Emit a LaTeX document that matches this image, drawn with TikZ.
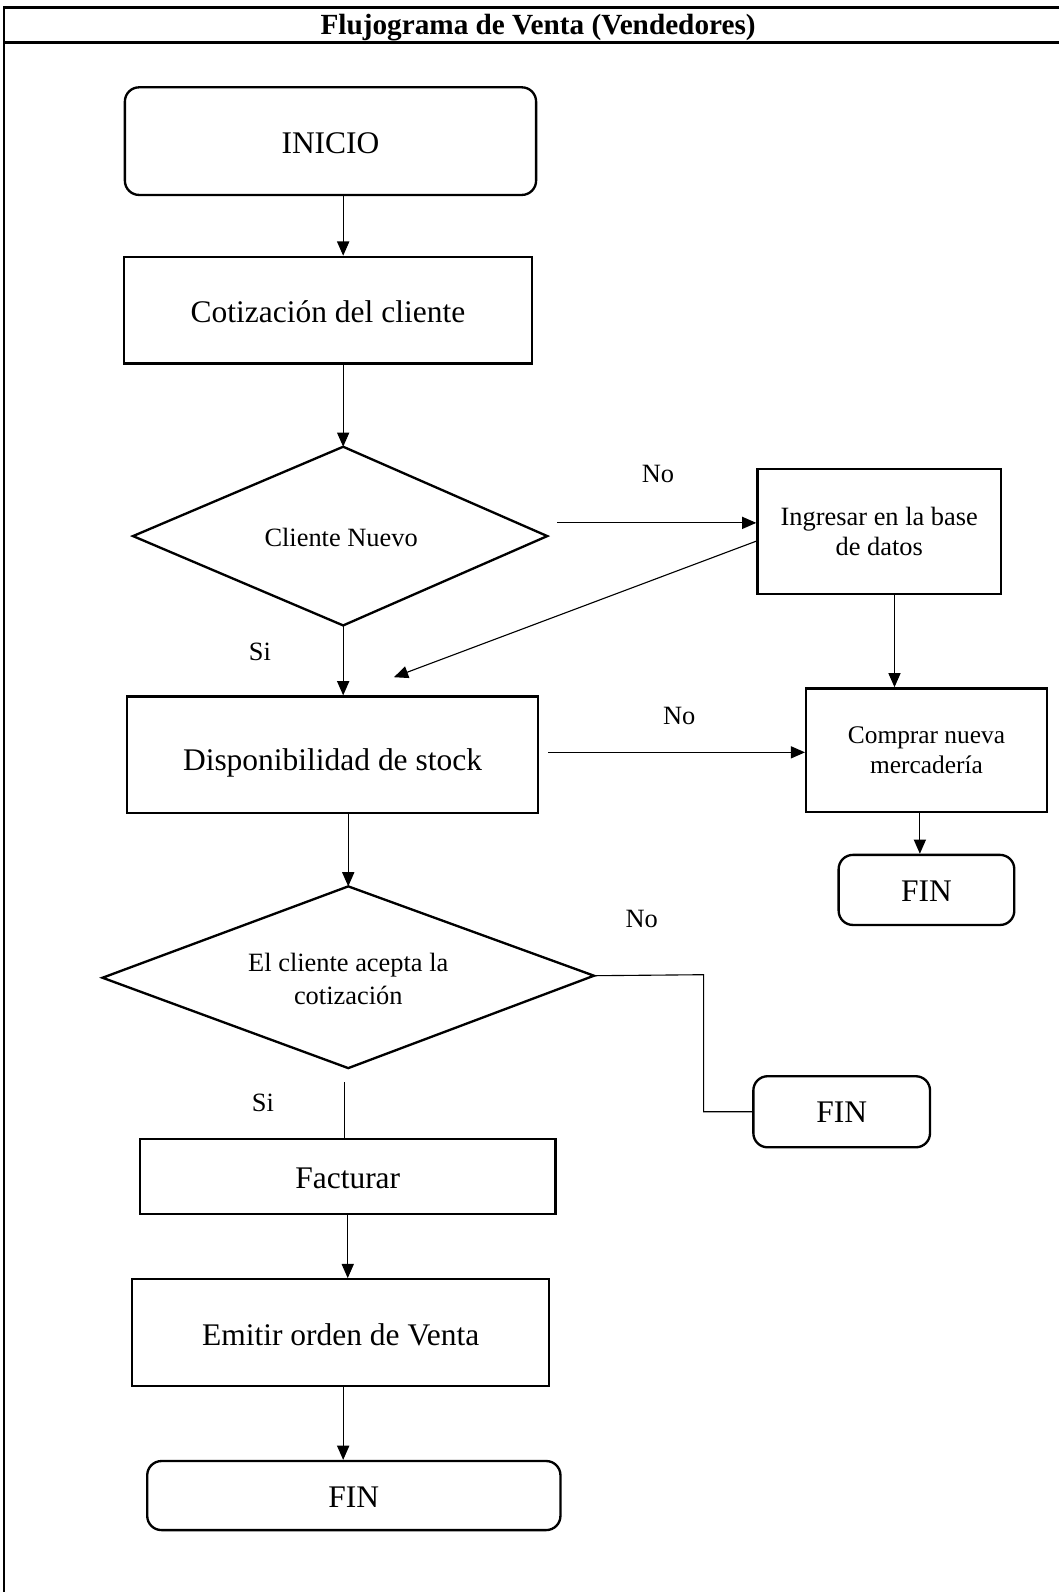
\documentclass[tikz,border=0pt]{standalone}
\usepackage{fontspec}
\setmainfont{Liberation Serif}
\usetikzlibrary{shapes.geometric,arrows.meta}

\tikzset{
  big/.style={font=\fontsize{31}{36}\selectfont},
  small/.style={font=\fontsize{26}{30}\selectfont},
  procbox/.style={draw, line width=2.3pt, rectangle, inner sep=0pt, align=center},
  termbox/.style={procbox, rounded corners=14pt},
  decline/.style={line width=2.3pt, line join=miter},
  conn/.style={line width=1.1pt},
  arr/.style={conn, -{Triangle[length=14pt,width=12pt]}},
  lbl/.style={small, inner sep=0pt},
  frameline/.style={line width=2.8pt},
  % baseline placed #1/2 pt below the box centre
  basedrop/.style={text height=#1pt, text depth=0pt}
}

\begin{document}
\begin{tikzpicture}[x=1pt,y=-1pt]
\useasboundingbox (0,0) rectangle (1043,1568);

% outer frame and title bar
\draw[frameline] (1043,7) -- (4,7) -- (4,1568);
\draw[frameline] (4,42) -- (1043,42);
\node[font=\fontsize{28.8}{32}\selectfont\bfseries] (title) at (530,27) {Flujograma de Venta (Vendedores)};

% main column
\node[termbox, big, basedrop=24, minimum width=405pt, minimum height=106pt] (ini) at (325.5,139) {INICIO};
\node[procbox, big, basedrop=25, minimum width=402pt, minimum height=105pt] (cot) at (323,305.5) {Cotización del cliente};

% decision: new customer
\coordinate (d1n) at (338,440);
\coordinate (d1e) at (539,528);
\coordinate (d1s) at (338,616);
\coordinate (d1w) at (131,528);
\draw[decline] (d1n) -- (d1e) -- (d1s) -- (d1w) -- cycle;
\node[small, align=center] (d1) at (336,529) {Cliente Nuevo};

\node[procbox, big, basedrop=30, minimum width=405pt, minimum height=115pt] (disp) at (327.5,743.5) {Disponibilidad de stock};

% decision: quotation accepted
\coordinate (d2n) at (343,873);
\coordinate (d2e) at (585,961);
\coordinate (d2s) at (343,1052);
\coordinate (d2w) at (101,963);
\draw[decline] (d2n) -- (d2e) -- (d2s) -- (d2w) -- cycle;
\node[font=\fontsize{26}{32}\selectfont, align=center] (d2) at (343,964) {El cliente acepta la\\cotización};

\node[procbox, big, basedrop=24, minimum width=409pt, minimum height=74pt] (fac) at (342.5,1159) {Facturar};
\node[procbox, big, basedrop=25, minimum width=411pt, minimum height=105pt] (emi) at (335.5,1312.5) {Emitir orden de Venta};
\node[termbox, big, basedrop=24, minimum width=407pt, minimum height=68pt] (fin3) at (348.5,1473) {FIN};

% right column
\node[procbox, small, minimum width=240pt, minimum height=123pt] (ing) at (866,523.5) {Ingresar en la base\\de datos};
\node[procbox, small, minimum width=237pt, minimum height=122pt, font=\fontsize{25}{29}\selectfont] (comp) at (912.5,739) {Comprar nueva\\mercadería};
\node[termbox, big, basedrop=23, minimum width=173pt, minimum height=69pt] (fin1) at (912.5,876.5) {FIN};
\node[termbox, big, basedrop=22, minimum width=174pt, minimum height=70pt] (fin2) at (829,1095) {FIN};

% branch labels
\node[lbl] (no1) at (648,467) {No};
\node[lbl] (si1) at (256,642) {Si};
\node[lbl] (no2) at (669,705) {No};
\node[lbl] (no3) at (632,905) {No};
\node[lbl] (si2) at (259,1086) {Si};

% free ends of connectors
\coordinate (n1) at (549,515);
\coordinate (m1) at (388,667);
\coordinate (n2) at (540,741);
\coordinate (s2) at (339,1066);
\coordinate (k1) at (693,960);

% connectors
\draw[arr] ([xshift=12.5pt]ini.south) -- ([xshift=12.5pt]ini.south |- cot.north);
\draw[arr] (d1n |- cot.south) -- (d1n);
\draw[arr] (n1) -- (n1 -| ing.west);
\draw[arr] ([yshift=-9.5pt]ing.west) -- (m1);
\draw[arr] (d1s) -- (d1s |- disp.north);
\draw[arr] ([xshift=15pt]ing.south) -- ([xshift=15pt]ing.south |- comp.north);
\draw[arr] (n2) -- (n2 -| comp.west);
\draw[arr] ([xshift=-6.5pt]comp.south) -- ([xshift=-6.5pt]comp.south |- fin1.north);
\draw[arr] (d2n |- disp.south) -- (d2n);
\draw[conn] (d2e) -- (k1) |- (fin2.west);
\draw[conn] (s2) -- (s2 |- fac.north);
\draw[arr] (fac.south) -- (fac.south |- emi.north);
\draw[arr] ([xshift=2.5pt]emi.south) -- ([xshift=2.5pt]emi.south |- fin3.north);
\end{tikzpicture}
\end{document}
